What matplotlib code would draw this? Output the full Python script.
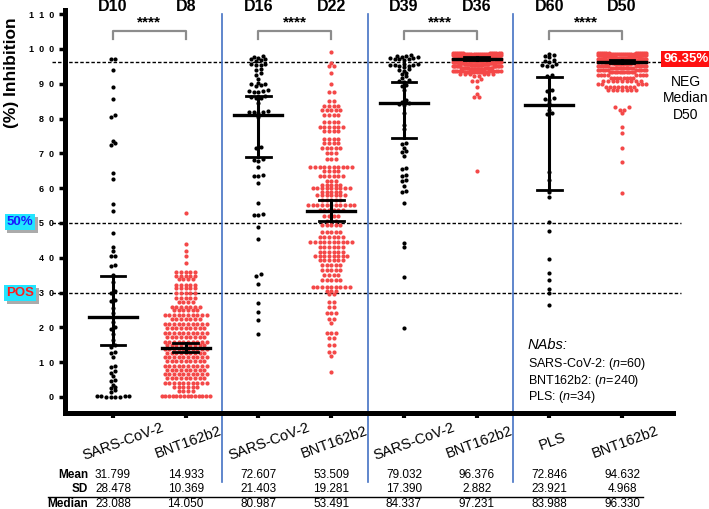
import matplotlib
matplotlib.use('Agg')
import matplotlib.pyplot as plt
import matplotlib.patheffects as pe
import matplotlib.transforms as mtransforms
import numpy as np

plt.rcParams['font.family'] = ['Liberation Sans', 'DejaVu Sans']
plt.rcParams['mathtext.fontset'] = 'custom'
plt.rcParams['mathtext.it'] = 'Liberation Sans:italic'
plt.rcParams['mathtext.rm'] = 'Liberation Sans'

# ---- data ----
groups = ['SARS-CoV-2', 'BNT162b2', 'SARS-CoV-2', 'BNT162b2',
          'SARS-CoV-2', 'BNT162b2', 'PLS', 'BNT162b2']
days = ['D10', 'D8', 'D16', 'D22', 'D39', 'D36', 'D60', 'D50']
means = ['31.799', '14.933', '72.607', '53.509', '79.032', '96.376', '72.846', '94.632']
sds = ['28.478', '10.369', '21.403', '19.281', '17.390', '2.882', '23.921', '4.968']
medians_txt = ['23.088', '14.050', '80.987', '53.491', '84.337', '97.231', '83.988', '96.330']
medians = [23.088, 14.050, 80.987, 53.491, 84.337, 97.231, 83.988, 96.330]
bar_lo = [14.9, 12.9, 69.0, 50.6, 74.5, 96.8, 59.5, 95.9]
bar_hi = [34.8, 15.5, 86.5, 56.6, 90.6, 97.6, 92.0, 96.8]
ref_lines = [96.35, 50, 30]

sars_d10 = [97, 97, 94, 89, 85.5, 81, 80.5, 73.5, 73, 72.5, 64.5, 62.5, 55.5, 53.5, 47,
            43, 42, 40.5, 40.5, 38, 37.5, 35, 33, 30.5, 30, 28, 27.5, 25.5, 24, 23,
            21.5, 20, 19.5, 18, 16.5, 15, 14.5, 13, 12.5, 11.5, 9, 8.5, 7.5, 7, 6,
            5, 4.5, 3.5, 3, 2.5, 2, 1.5, 0.3, 0.3, 0.2, 0.2, 0.1, 0.1, 0, 0]

bnt_d8_lv = [52.8, 43.9, 42.0, 40.5, 38.4, 36.0, 34.9, 33.8, 32.2, 31.2, 29.8, 28.4, 27.4,
             26.0, 25.0, 23.6, 22.3, 21.1, 19.8, 18.5, 17.3, 15.9, 14.9, 13.8, 12.5, 11.4,
             10.2, 8.9, 7.8, 6.6, 5.4, 4.1, 2.8, 1.6, 0.3]
bnt_d8_n = [1, 1, 1, 1, 1, 5, 5, 4, 5, 5, 5, 5, 4,
            7, 6, 10, 7, 10, 9, 10, 9, 10, 9, 10, 9, 10,
            9, 10, 9, 10, 9, 10, 6, 4, 14]

sars_d16 = [98, 97.7, 97.5, 97.2, 97, 96.8, 96.5, 95.8, 95.7, 95.5, 95.5, 94.3, 94, 93,
            92.5, 91.5, 90.3, 90, 89.8, 89.6, 89.3, 88.3, 88, 87.8, 87.7, 87.5, 86.5,
            86.2, 86, 85.8, 84.5, 82.2, 82, 82, 81.8, 81.6, 80.5, 71.9, 71.6, 68.3, 68,
            67.8, 66.2, 63.8, 63.6, 63.4, 61.5, 55.7, 52.6, 52.4, 52.2, 48.9, 45.3,
            35.2, 34.8, 32.6, 27, 24.5, 22.1, 18.1]

bnt_d22_lv = [99, 96, 95, 93, 90, 87.5, 85, 83.5, 82.5, 81, 79, 77.5, 76.5, 74, 73, 71.5,
              70, 68.5, 66, 65, 63.5, 62, 61, 60, 59, 58, 56.5, 55.3, 53.6, 52, 50.5,
              49.5, 47.5, 46, 44.4, 43, 41.8, 40.5, 39.4, 38, 36.5, 35, 33.6, 31.7, 30.5,
              29.5, 27.2, 26, 24, 22.5, 21.4, 18.3, 17, 15, 13, 11.8, 7.3]
bnt_d22_n = [1, 1, 2, 1, 1, 2, 2, 4, 5, 4, 4, 6, 4, 4, 4, 5,
             3, 3, 10, 4, 6, 3, 5, 9, 5, 7, 5, 11, 6, 4, 3,
             5, 5, 6, 10, 6, 6, 8, 6, 5, 5, 4, 5, 9, 3,
             2, 2, 2, 3, 2, 1, 3, 2, 2, 2, 1, 1]

sars_d39 = [98.2, 98, 98, 97.8, 97.6, 97.4, 97.3, 97.2, 97.1, 97, 96.8, 95.8, 95.6, 95.5,
            95.4, 95.3, 95.2, 95, 94.9, 94.2, 94, 93.8, 93.1, 92.8, 92.1, 91.8, 91.2,
            90.8, 90.4, 89.7, 89.4, 88.2, 85.2, 84.9, 84.6, 84.1, 83.8, 81.5, 78.2, 77,
            73.1, 72.8, 71.5, 70.6, 70.3, 69.3, 65.8, 65.5, 63.9, 63.6, 62.3, 62, 60.6,
            59.1, 58.8, 55.7, 44.3, 43, 34.6, 19.7]

bnt_d36_lv = [98.8, 98.5, 98.2, 98.0, 97.8, 97.5, 97.2, 97.0, 96.8, 96.5, 96.2, 96.0,
              95.7, 95.4, 95.0, 94.6, 94.2, 93.8, 93.3, 92.8, 92.2, 91.5, 90.8, 89.2,
              87.2, 86.3, 65.0]
bnt_d36_n = [12, 12, 12, 12, 12, 12, 12, 12, 12, 12, 12, 12,
             12, 12, 12, 12, 11, 11, 10, 6, 2, 1, 2, 1,
             1, 2, 1]

pls_d60 = [98.7, 98.3, 98, 97.6, 96.8, 96.6, 96.4, 95.6, 95.4, 95.2, 95, 92.6, 92.3, 88.2,
           88, 85.8, 85.6, 85.4, 84.5, 82.5, 81.6, 81.3, 64.7, 62.3, 59, 57.6, 50.4,
           47.7, 39.6, 35.6, 33.5, 31.1, 29.9, 26.3]

bnt_d50_lv = [98.8, 98.5, 98.2, 98.0, 97.7, 97.4, 97.1, 96.8, 96.5, 96.2, 95.9, 95.6,
              95.2, 94.6, 94.0, 93.3, 92.4, 91.6, 90.7, 90.0, 89.2, 88.2, 83.2, 82.6,
              81.7, 77.5, 75.8, 71.5, 67.6, 58.5]
bnt_d50_n = [12, 12, 12, 12, 12, 12, 12, 12, 12, 12, 12, 12,
             10, 10, 10, 11, 8, 8, 9, 5, 8, 7, 2, 2,
             1, 1, 1, 1, 1, 1]

values = [sars_d10, np.repeat(bnt_d8_lv, bnt_d8_n), sars_d16,
          np.repeat(bnt_d22_lv, bnt_d22_n), sars_d39, np.repeat(bnt_d36_lv, bnt_d36_n),
          pls_d60, np.repeat(bnt_d50_lv, bnt_d50_n)]
colors = ['black', '#f44848'] * 4

W, H = 709, 509


def fx(px):
    return px / W


def fy(py):
    return 1 - py / H


def swarm(vals, center, dh=0.85, dx=0.064, maxw=0.66):
    # simple row-wise beeswarm: near-equal values share a row, spread sideways
    v = np.sort(np.asarray(vals, float))
    xs, ys = [], []
    i = 0
    while i < len(v):
        j = i
        while j < len(v) and v[j] - v[i] < dh:
            j += 1
        row = v[i:j]
        n = len(row)
        step = dx if n < 2 else min(dx, maxw / (n - 1))
        slots = (np.arange(n) - (n - 1) / 2) * step
        order = np.argsort(np.abs(slots), kind='stable')
        xs.extend(center + slots[order])
        ys.extend(row)
        i = j
    return np.array(xs), np.array(ys)


fig = plt.figure(figsize=(W / 100, H / 100), dpi=100)
ax = fig.add_axes([fx(65), fy(413), 608 / W, 403 / H])
ax.set_xlim(0.34, 8.70)
ax.set_ylim(-4.6, 111.2)

for s in ['top', 'right']:
    ax.spines[s].set_visible(False)
for s in ['left', 'bottom']:
    ax.spines[s].set_linewidth(3.6)

ax.set_yticks(range(0, 111, 10))
ax.set_yticklabels(['  '.join(str(t)) for t in range(0, 111, 10)],
                   fontsize=6.5, fontweight='bold')
ax.tick_params(axis='y', length=4, width=2.5, pad=4)
ax.set_xticks(range(1, 9))
ax.set_xticklabels([])
ax.tick_params(axis='x', length=3.5, width=3)
ax.set_ylabel('(%) Inhibition', fontsize=12.5, fontweight='bold')
ax.yaxis.set_label_coords(-(65 - 19) / 608, (413 - 73) / 403)

# reference dashed lines
hb = mtransforms.blended_transform_factory(ax.transAxes, ax.transData)
for y in ref_lines:
    x1 = (663 - 65) / 608 if y > 90 else (681 - 65) / 608
    ax.plot([(52 - 65) / 608, x1], [y, y], color='black', lw=1.0,
            ls=(0, (2.5, 1.5)), transform=hb, clip_on=False, zorder=1)

# dots
for i, vals in enumerate(values):
    xs, ys = swarm(vals, i + 1)
    ax.scatter(xs, ys, s=9, c=colors[i], linewidths=0, zorder=3, clip_on=False)

# median and bars
for i in range(8):
    x = i + 1
    ax.plot([x, x], [bar_lo[i], bar_hi[i]], color='black', lw=2.2, zorder=4)
    for yb in (bar_lo[i], bar_hi[i]):
        ax.plot([x - 0.17, x + 0.17], [yb, yb], color='black', lw=2, zorder=4)
    ax.plot([x - 0.33, x + 0.33], [medians[i]] * 2, color='black', lw=2.4, zorder=4)

# top labels, brackets, stars
for i, d in enumerate(days):
    ax.text(i + 1, 112.1, d, ha='center', va='center', fontsize=11.5, fontweight='bold')
for a in (1, 3, 5, 7):
    b = a + 1
    ax.plot([a, a, b, b], [102.9, 105.2, 105.2, 102.9], color='#8c8c8c', lw=1.6,
            clip_on=False, zorder=2)
    ax.text((a + b) / 2, 107.6, '****', ha='center', va='center', fontsize=11,
            fontweight='bold')

# blue separators
vb = mtransforms.blended_transform_factory(ax.transData, fig.transFigure)
for xs in (2.5, 4.5, 6.5):
    ax.plot([xs, xs], [fy(14), fy(482)], color='#4472c4', lw=1.2, transform=vb,
            clip_on=False, zorder=2)

# category labels and table
for i, g in enumerate(groups):
    shift = 0.14 if g.startswith('SARS') else 0.04
    ax.text(i + 1 + shift, fy(442), g, transform=vb, rotation=20, ha='center',
            va='center', fontsize=10.5)
    ax.text(i + 1, fy(475), means[i], transform=vb, ha='center', va='center', fontsize=8.5)
    ax.text(i + 1, fy(489), sds[i], transform=vb, ha='center', va='center', fontsize=8.5)
    ax.text(i + 1, fy(504), medians_txt[i], transform=vb, ha='center', va='center',
            fontsize=8.5)
for lab, py in (('Mean', 475), ('SD', 489), ('Median', 504)):
    fig.text(fx(88), fy(py), lab, ha='right', va='center', fontsize=8.5, fontweight='bold')
fig.add_artist(plt.Line2D([fx(48), fx(643)], [fy(497), fy(497)], color='black', lw=1))

# left markers
shadow = [pe.withSimplePatchShadow(offset=(2, -2), shadow_rgbFace='#888888', alpha=0.7)]
t = fig.text(fx(20), fy(222), '50%', ha='center', va='center', fontsize=9.5,
             fontweight='bold', color='#1a1aff',
             bbox=dict(boxstyle='square,pad=0.15', fc='#22e5ff', ec='none'))
t.get_bbox_patch().set_path_effects(shadow)
t = fig.text(fx(20), fy(293), 'POS', ha='center', va='center', fontsize=9.5,
             fontweight='bold', color='#ff1a1a',
             bbox=dict(boxstyle='square,pad=0.15', fc='#22e5ff', ec='none'))
t.get_bbox_patch().set_path_effects(shadow)

# right annotations
fig.text(fx(686), fy(59), '96.35%', ha='center', va='center', fontsize=9.5,
         fontweight='bold', color='white',
         bbox=dict(boxstyle='square,pad=0.15', fc='#ff1010', ec='none'))
for txt, py in (('NEG', 82), ('Median', 98), ('D50', 115)):
    fig.text(fx(686), fy(py), txt, ha='center', va='center', fontsize=10)

# sample sizes
fig.text(fx(528), fy(345), 'NAbs:', ha='left', va='center', fontsize=10.5, style='italic')
for txt, py in (('SARS-CoV-2: ($\\mathit{n}$=60)', 364),
                ('BNT162b2: ($\\mathit{n}$=240)', 381),
                ('PLS: ($\\mathit{n}$=34)', 397)):
    fig.text(fx(528), fy(py), txt, ha='left', va='center', fontsize=9)

fig.savefig('out.png', dpi=100)
